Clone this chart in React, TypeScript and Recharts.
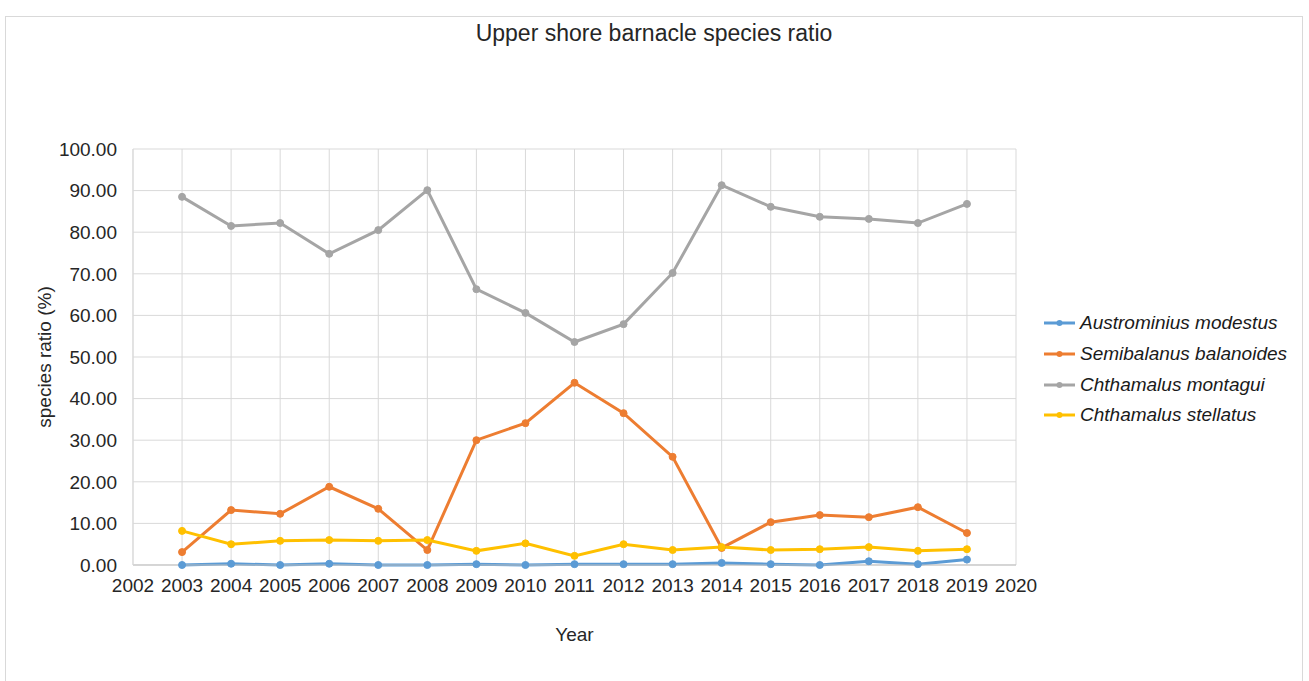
import { LineChart, Line, XAxis, YAxis, CartesianGrid, Legend, Label } from 'recharts';

const years = [2003, 2004, 2005, 2006, 2007, 2008, 2009, 2010, 2011, 2012, 2013, 2014, 2015, 2016, 2017, 2018, 2019];

const austrominius = [0.0, 0.3, 0.0, 0.3, 0.0, 0.0, 0.2, 0.0, 0.2, 0.2, 0.2, 0.5, 0.2, 0.0, 0.9, 0.2, 1.3];
const semibalanus = [3.1, 13.2, 12.3, 18.8, 13.5, 3.6, 30.0, 34.1, 43.8, 36.5, 26.0, 4.1, 10.3, 12.0, 11.5, 13.9, 7.7];
const montagui = [88.5, 81.5, 82.2, 74.8, 80.5, 90.1, 66.3, 60.6, 53.6, 57.9, 70.2, 91.3, 86.1, 83.7, 83.2, 82.2, 86.8];
const stellatus = [8.2, 5.0, 5.8, 6.0, 5.8, 6.0, 3.4, 5.2, 2.2, 5.0, 3.6, 4.3, 3.6, 3.8, 4.3, 3.4, 3.8];

const xTicks = [2002, 2003, 2004, 2005, 2006, 2007, 2008, 2009, 2010, 2011, 2012, 2013, 2014, 2015, 2016, 2017, 2018, 2019, 2020];
const yTicks = [0, 10, 20, 30, 40, 50, 60, 70, 80, 90, 100];

const series = [
  { key: 'austrominius', name: 'Austrominius modestus', color: '#5B9BD5' },
  { key: 'semibalanus', name: 'Semibalanus balanoides', color: '#ED7D31' },
  { key: 'montagui', name: 'Chthamalus montagui', color: '#A5A5A5' },
  { key: 'stellatus', name: 'Chthamalus stellatus', color: '#FFC000' },
];

const chartData = years.map((year, i) => ({
  year,
  austrominius: austrominius[i],
  semibalanus: semibalanus[i],
  montagui: montagui[i],
  stellatus: stellatus[i],
}));

const FONT = 'Arial, "Liberation Sans", sans-serif';
const TEXT = '#262626';

const CustomLegend = () => (
  <div style={{ fontFamily: FONT, fontSize: 19, fontStyle: 'italic', color: '#1a1a1a' }}>
    {series.map((s) => (
      <div key={s.key} style={{ display: 'flex', alignItems: 'center', height: 30.7 }}>
        <svg width={32} height={10} style={{ marginRight: 4 }}>
          <line x1={0} y1={5} x2={31} y2={5} stroke={s.color} strokeWidth={3} />
          <circle cx={15.5} cy={5} r={3} fill={s.color} />
        </svg>
        <span>{s.name}</span>
      </div>
    ))}
  </div>
);

export default function App() {
  return (
    <div
      style={{
        position: 'absolute',
        left: 5,
        top: 16,
        width: 1296,
        height: 680,
        border: '1px solid #d9d9d9',
        background: '#fff',
      }}
    >
      <div
        style={{
          position: 'absolute',
          left: 0,
          right: 0,
          top: 3,
          textAlign: 'center',
          fontFamily: FONT,
          fontSize: 23,
          color: TEXT,
        }}
      >
        Upper shore barnacle species ratio
      </div>
      <LineChart
        width={1296}
        height={664}
        data={chartData}
        margin={{ top: 132, right: 286, bottom: 26, left: 0 }}
      >
        <CartesianGrid stroke="#d9d9d9" strokeWidth={1} />
        <XAxis
          dataKey="year"
          type="number"
          domain={[2002, 2020]}
          ticks={xTicks}
          allowDecimals={false}
          interval={0}
          height={90}
          tickLine={false}
          tickSize={0}
          tickMargin={14}
          axisLine={{ stroke: '#bfbfbf' }}
          tick={{ fill: TEXT, fontSize: 19, fontFamily: FONT }}
        >
          <Label
            content={({ viewBox }: any) => (
              <text
                x={viewBox.x + viewBox.width / 2}
                y={viewBox.y + 69}
                textAnchor="middle"
                dominantBaseline="central"
                fill={TEXT}
                fontSize={19}
                fontFamily={FONT}
              >
                Year
              </text>
            )}
          />
        </XAxis>
        <YAxis
          type="number"
          domain={[0, 100]}
          ticks={yTicks}
          width={127}
          interval={0}
          tickLine={false}
          tickSize={0}
          tickMargin={16}
          axisLine={{ stroke: '#d9d9d9' }}
          tickFormatter={(v: number) => v.toFixed(2)}
          tick={{ fill: TEXT, fontSize: 19, fontFamily: FONT }}
        >
          <Label
            content={({ viewBox }: any) => {
              const cx = viewBox.x + 38;
              const cy = viewBox.y + viewBox.height / 2;
              return (
                <text
                  x={cx}
                  y={cy}
                  transform={`rotate(-90, ${cx}, ${cy})`}
                  textAnchor="middle"
                  dominantBaseline="central"
                  fill={TEXT}
                  fontSize={19}
                  fontFamily={FONT}
                >
                  species ratio (%)
                </text>
              );
            }}
          />
        </YAxis>
        <Legend
          layout="vertical"
          align="center"
          verticalAlign="middle"
          content={<CustomLegend />}
          wrapperStyle={{ left: 1038, top: 291, width: 260 }}
        />
        {series.map((s) => (
          <Line
            key={s.key}
            type="linear"
            dataKey={s.key}
            name={s.name}
            stroke={s.color}
            strokeWidth={3}
            dot={{ r: 3.5, fill: s.color, stroke: s.color, strokeWidth: 1 }}
            activeDot={false}
            isAnimationActive={false}
          />
        ))}
      </LineChart>
    </div>
  );
}
